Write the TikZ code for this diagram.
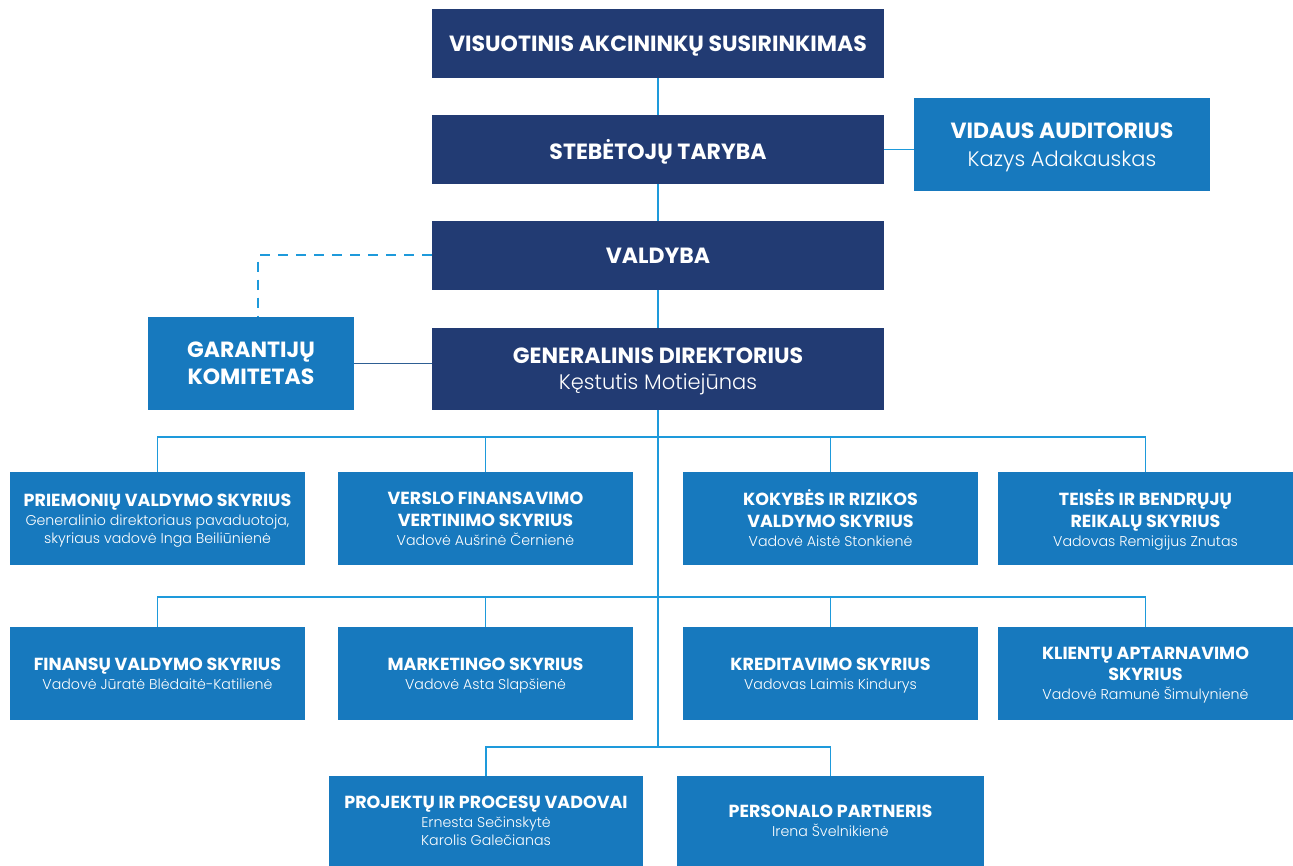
\documentclass[tikz,border=0pt]{standalone}
\usepackage{fontspec}
\setmainfont{Poppins}
\newfontfamily\lightfont{Poppins Light}
\definecolor{navy}{HTML}{223B73}
\definecolor{boxblue}{HTML}{1779BE}
\definecolor{linkblue}{HTML}{1E9ADB}
\definecolor{linkdark}{HTML}{2E5F93}
\tikzset{
  topbox/.style={fill=navy, text=white, inner sep=0pt, minimum width=452pt, align=center, text depth=0pt, font=\fontsize{22}{26}\selectfont},
  sidebox/.style={fill=boxblue, text=white, inner sep=0pt, align=center, text depth=0pt, font=\fontsize{22}{26}\selectfont},
  deptbox/.style={fill=boxblue, text=white, inner sep=0pt, minimum width=295pt, minimum height=93pt, align=center, text depth=0pt, font=\fontsize{17.5}{18}\selectfont},
  link/.style={draw=linkblue, line width=1.3pt},
  darklink/.style={draw=linkdark, line width=1.3pt},
  dashlink/.style={draw=linkblue, line width=2pt, dash pattern=on 10pt off 8pt},
}
\newcommand{\bigt}{\fontsize{22}{26}\selectfont\bfseries}
\newcommand{\bign}{\fontsize{21}{26}\selectfont\lightfont}
\newcommand{\dt}{\fontsize{17.5}{18}\selectfont\bfseries}
\newcommand{\dn}{\fontsize{14.2}{18}\selectfont\lightfont}
\begin{document}
\begin{tikzpicture}[x=1pt,y=-1pt]
\useasboundingbox (0,0) rectangle (1293,866);
% top chain
\node[topbox, minimum height=69pt] (b1) at (658,43.5) {\bigt VISUOTINIS AKCININKŲ SUSIRINKIMAS};
\node[topbox, minimum height=69pt] (b2) at (658,149.5) {\bigt STEBĖTOJŲ TARYBA};
\node[topbox, minimum height=69pt] (b3) at (658,255.5) {\bigt VALDYBA};
\node[topbox, minimum height=82pt] (b4) at (658,369) {\bigt GENERALINIS DIREKTORIUS\\\bign Kęstutis Motiejūnas};
\node[sidebox, minimum width=296pt, minimum height=93pt] (va) at (1062,144.5) {\bigt VIDAUS AUDITORIUS\\[2pt]\bign Kazys Adakauskas};
\node[sidebox, minimum width=206pt, minimum height=93pt] (gk) at (251,363.5) {\bigt GARANTIJŲ\\[1pt]\bigt KOMITETAS};
% row 1
\node[deptbox] (r1a) at (157.5,518.5) {\dt PRIEMONIŲ VALDYMO SKYRIUS\\[1pt]\dn Generalinio direktoriaus pavaduotoja,\\\dn skyriaus vadovė Inga Beiliūnienė};
\node[deptbox] (r1b) at (485.5,518.5) {\dt VERSLO FINANSAVIMO\\[4pt]\dt VERTINIMO SKYRIUS\\[1pt]\dn Vadovė Aušrinė Černienė};
\node[deptbox] (r1c) at (830.5,518.5) {\dt KOKYBĖS IR RIZIKOS\\[4pt]\dt VALDYMO SKYRIUS\\[1pt]\dn Vadovė Aistė Stonkienė};
\node[deptbox] (r1d) at (1145.5,518.5) {\dt TEISĖS IR BENDRŲJŲ\\[4pt]\dt REIKALŲ SKYRIUS\\[1pt]\dn Vadovas Remigijus Znutas};
% row 2
\node[deptbox] (r2a) at (157.5,673.5) {\dt FINANSŲ VALDYMO SKYRIUS\\[1pt]\dn Vadovė Jūratė Blėdaitė-Katilienė};
\node[deptbox] (r2b) at (485.5,673.5) {\dt MARKETINGO SKYRIUS\\[1pt]\dn Vadovė Asta Slapšienė};
\node[deptbox] (r2c) at (830.5,673.5) {\dt KREDITAVIMO SKYRIUS\\[1pt]\dn Vadovas Laimis Kindurys};
\node[deptbox] (r2d) at (1145.5,673.5) {\dt KLIENTŲ APTARNAVIMO\\[3pt]\dt SKYRIUS\\[1pt]\dn Vadovė Ramunė Šimulynienė};
% row 3
\node[deptbox, minimum width=314pt, minimum height=90pt] (r3a) at (486,821) {\dt PROJEKTŲ IR PROCESŲ VADOVAI\\[1pt]\dn Ernesta Sečinskytė\\\dn Karolis Galečianas};
\node[deptbox, minimum width=307pt, minimum height=90pt] (r3b) at (830.5,821) {\dt PERSONALO PARTNERIS\\[1pt]\dn Irena Švelnikienė};
% junctions
\coordinate (j1) at (658,437);
\coordinate (j2) at (658,597);
\coordinate (j3) at (658,747);
% links
\draw[link] (b1.south) -- (b2.north);
\draw[link] (b2.south) -- (b3.north);
\draw[link] (b3.south) -- (b4.north);
\draw[link] (b2.east) -- (va.west |- b2.east);
\draw[darklink] (gk.east) -- (b4.west |- gk.east);
\draw[dashlink] (b3.west) -| ([xshift=7pt]gk.north);
\draw[link] (b4.south) -- (j3);
\draw[link] (r1a.north) |- (j1) -| (r1d.north);
\draw[link] (r1b.north) |- (j1);
\draw[link] (r1c.north) |- (j1);
\draw[link] (r2a.north) |- (j2) -| (r2d.north);
\draw[link] (r2b.north) |- (j2);
\draw[link] (r2c.north) |- (j2);
\draw[link] (r3a.north) |- (j3) -| (r3b.north);
\end{tikzpicture}
\end{document}
